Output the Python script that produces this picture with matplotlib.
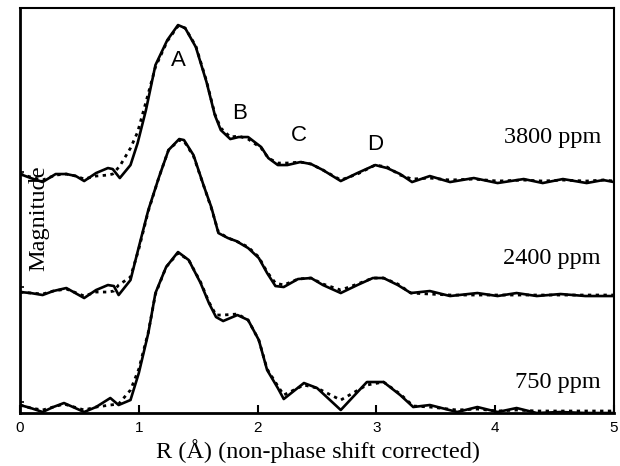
import matplotlib
matplotlib.use("Agg")
import matplotlib.pyplot as plt

# ---- data (R in Å, magnitudes relative to each curve's baseline) ----
r_3800 = [0.0, 0.09, 0.19, 0.30, 0.39, 0.47, 0.54, 0.64, 0.74, 0.78,
          0.84, 0.93, 0.99, 1.06, 1.14, 1.24, 1.33, 1.39, 1.48, 1.57,
          1.64, 1.69, 1.77, 1.84, 1.92, 2.03, 2.09, 2.17, 2.25, 2.36,
          2.45, 2.55, 2.70, 2.84, 2.99, 3.09, 3.20, 3.30, 3.45, 3.62,
          3.82, 4.02, 4.24, 4.40, 4.57, 4.77, 4.91, 5.0]
exp_3800 = [-0.02, -0.06, -0.10, -0.02, -0.02, -0.04, -0.09, -0.01, 0.04, 0.03,
            -0.06, 0.07, 0.29, 0.62, 1.07, 1.32, 1.47, 1.44, 1.25, 0.90,
            0.57, 0.42, 0.33, 0.35, 0.35, 0.25, 0.14, 0.07, 0.07, 0.10,
            0.08, 0.02, -0.09, -0.01, 0.07, 0.04, -0.02, -0.10, -0.04, -0.10,
            -0.06, -0.11, -0.07, -0.11, -0.07, -0.11, -0.08, -0.10]
fit_3800 = [-0.02, -0.05, -0.08, -0.03, -0.02, -0.04, -0.07, -0.04, -0.03, -0.02,
            0.06, 0.24, 0.40, 0.70, 1.05, 1.31, 1.46, 1.44, 1.26, 0.91,
            0.58, 0.44, 0.35, 0.36, 0.33, 0.24, 0.14, 0.09, 0.09, 0.10,
            0.08, 0.02, -0.08, -0.02, 0.07, 0.05, -0.03, -0.07, -0.06, -0.08,
            -0.07, -0.09, -0.08, -0.09, -0.08, -0.09, -0.08, -0.09]

r_2400 = [0.0, 0.09, 0.19, 0.28, 0.39, 0.54, 0.64, 0.74, 0.79, 0.83,
          0.93, 1.00, 1.08, 1.17, 1.25, 1.34, 1.38, 1.46, 1.55, 1.61,
          1.67, 1.75, 1.82, 1.92, 2.01, 2.08, 2.15, 2.22, 2.34, 2.45,
          2.55, 2.70, 2.84, 2.97, 3.06, 3.18, 3.29, 3.45, 3.62, 3.85,
          4.02, 4.18, 4.35, 4.55, 4.76, 5.0]
exp_2400 = [-0.05, -0.06, -0.08, -0.04, -0.01, -0.11, -0.03, 0.02, 0.01, -0.08,
            0.07, 0.40, 0.77, 1.10, 1.37, 1.48, 1.47, 1.32, 1.00, 0.80,
            0.54, 0.49, 0.46, 0.39, 0.29, 0.14, 0.01, 0.00, 0.08, 0.09,
            0.02, -0.06, 0.02, 0.09, 0.09, 0.02, -0.06, -0.04, -0.09, -0.06,
            -0.09, -0.06, -0.09, -0.07, -0.09, -0.09]
fit_2400 = [-0.05, -0.06, -0.07, -0.04, -0.02, -0.09, -0.05, -0.05, -0.04, 0.02,
            0.10, 0.38, 0.76, 1.10, 1.37, 1.47, 1.46, 1.31, 1.00, 0.79,
            0.55, 0.49, 0.46, 0.40, 0.30, 0.15, 0.04, 0.02, 0.08, 0.09,
            0.03, -0.03, 0.03, 0.09, 0.09, 0.03, -0.06, -0.07, -0.08, -0.08,
            -0.08, -0.08, -0.08, -0.08, -0.08, -0.08]

r_750 = [0.0, 0.09, 0.19, 0.28, 0.37, 0.54, 0.64, 0.76, 0.83, 0.93,
         1.00, 1.08, 1.14, 1.23, 1.33, 1.42, 1.52, 1.59, 1.65, 1.71,
         1.83, 1.92, 2.01, 2.08, 2.17, 2.22, 2.39, 2.50, 2.70, 2.92,
         3.06, 3.20, 3.31, 3.45, 3.68, 3.85, 4.02, 4.18, 4.35, 4.55,
         4.76, 5.0]
exp_750 = [-0.03, -0.06, -0.10, -0.05, -0.01, -0.10, -0.05, 0.04, -0.03, 0.02,
           0.29, 0.69, 1.09, 1.35, 1.50, 1.42, 1.19, 0.99, 0.85, 0.81,
           0.87, 0.82, 0.62, 0.32, 0.14, 0.03, 0.19, 0.14, -0.08, 0.20,
           0.20, 0.07, -0.05, -0.03, -0.10, -0.05, -0.10, -0.06, -0.11, -0.10,
           -0.11, -0.11]
fit_750 = [-0.03, -0.06, -0.08, -0.05, -0.02, -0.08, -0.05, -0.03, -0.02, 0.12,
           0.33, 0.70, 1.08, 1.35, 1.49, 1.42, 1.20, 1.00, 0.87, 0.87,
           0.88, 0.82, 0.62, 0.33, 0.16, 0.07, 0.17, 0.14, 0.02, 0.17,
           0.20, 0.08, -0.04, -0.05, -0.08, -0.07, -0.09, -0.08, -0.09, -0.09,
           -0.09, -0.09]

series_labels = ["3800 ppm", "2400 ppm", "750 ppm"]
offsets = [2.41, 1.26, 0.11]
peak_labels = ["A", "B", "C", "D"]
peak_pos = [(1.33, 3.53), (1.85, 3.00), (2.35, 2.78), (2.99, 2.69)]
x_ticks = [0, 1, 2, 3, 4, 5]

# ---- figure ----
fig = plt.figure(figsize=(6.2, 4.66), dpi=100)
ax = fig.add_axes([0.0323, 0.1137, 0.958, 0.869])

series = [(r_3800, exp_3800, fit_3800), (r_2400, exp_2400, fit_2400), (r_750, exp_750, fit_750)]
for (r, e, f), off in zip(series, offsets):
    ax.plot(r, [v + off for v in f], color="black", lw=2.0, linestyle=(0, (1.2, 1.6)))
    ax.plot(r, [v + off for v in e], color="black", lw=1.9)

ax.set_xlim(0, 5)
ax.set_ylim(0, 4.05)
ax.set_xticks(x_ticks)
ax.set_xticklabels([str(t) for t in x_ticks], family="Liberation Sans", fontsize=11)
ax.set_yticks(offsets)
ax.set_yticklabels([])
ax.tick_params(axis="x", direction="in", length=6, width=1.5, pad=6)
ax.tick_params(axis="y", direction="in", length=3, width=1.2)
for s in ["left", "bottom"]:
    ax.spines[s].set_linewidth(2.0)
for s in ["top", "right"]:
    ax.spines[s].set_linewidth(1.5)

label_y = [2.76, 1.55, 0.31]
for lab, y in zip(series_labels, label_y):
    ax.text(4.89, y, lab, ha="right", va="center", family="Liberation Serif", fontsize=17.5)

for lab, (x, y) in zip(peak_labels, peak_pos):
    ax.text(x, y, lab, ha="center", va="center",
            family=["Liberation Sans Narrow", "DejaVu Sans Condensed", "Liberation Sans"],
            fontsize=16)

ax.text(0.032, 0.48, "Magnitude", transform=ax.transAxes, rotation=90,
        ha="center", va="center", family="Liberation Serif", fontsize=17.5)
fig.text(318 / 620, 1 - 451 / 466, "R (Å) (non-phase shift corrected)",
         ha="center", va="center", family="Liberation Serif", fontsize=17.5)

fig.savefig("out.png", dpi=100)
